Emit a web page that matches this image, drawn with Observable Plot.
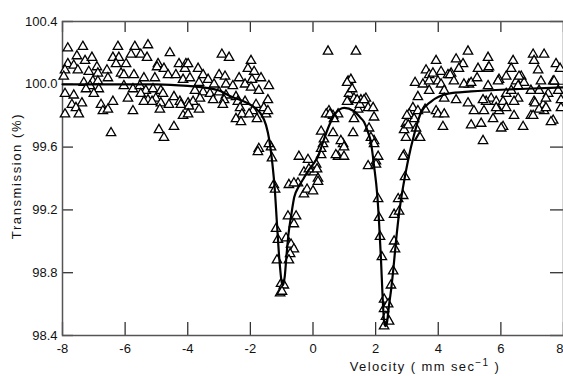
<!DOCTYPE html>
<html><head><meta charset="utf-8">
<script src="https://cdn.jsdelivr.net/npm/d3@7"></script>
<script src="https://cdn.jsdelivr.net/npm/@observablehq/plot@0.6"></script>
<style>body{margin:0;background:#fff} svg{display:block}</style>
</head><body><div id="chart"></div>
<script>
// Observed spectrum: [velocity (mm/s), transmission (%)]
const wingLeft = [
[-7.83,100.23],[-7.35,100.24],[-6.23,100.24],[-5.69,100.24],[-5.27,100.25],[-4.57,100.20],[-7.54,100.18],[-7.28,100.15],
[-7.06,100.17],[-6.39,100.17],[-6.20,100.17],[-5.81,100.19],[-5.50,100.19],[-5.30,100.17],[-6.29,100.13],[-5.97,100.13],
[-4.95,100.13],[-4.98,100.11],[-4.28,100.13],[-4.06,100.13],[-7.83,100.13],[-7.64,100.12],[-7.92,100.09],[-7.51,100.09],
[-7.16,100.08],[-6.90,100.11],[-6.87,100.07],[-6.58,100.09],[-6.13,100.07],[-6.04,100.06],[-5.72,100.06],[-5.40,100.04],
[-5.05,100.04],[-4.76,100.10],[-4.63,100.06],[-4.38,100.06],[-4.15,100.03],[-4.09,100.10],[-7.96,100.05],[-7.32,100.01],
[-7.03,100.02],[-6.87,100.02],[-6.55,100.04],[-7.12,99.99],[-6.84,99.97],[-7.25,99.97],[-6.04,99.99],[-5.75,99.97],
[-5.53,99.99],[-5.34,99.96],[-5.11,99.97],[-4.86,99.96],[-7.92,99.94],[-7.64,99.93],[-7.00,99.94],[-5.91,99.91],
[-5.50,99.94],[-5.27,99.90],[-5.02,99.91],[-4.79,99.94],[-4.44,99.92],[-4.25,99.89],[-3.99,99.88],[-7.70,99.87],
[-7.38,99.88],[-6.77,99.87],[-6.39,99.89],[-5.40,99.89],[-5.14,99.89],[-4.86,99.88],[-4.60,99.87],[-4.22,99.87],
[-7.57,99.85],[-6.71,99.83],[-6.55,99.84],[-5.75,99.83],[-4.89,99.84],[-7.92,99.81],[-7.48,99.81],[-4.15,99.80],
[-6.45,99.69],[-4.92,99.71],[-4.44,99.73],[-4.76,99.66]
];
const shoulderLeft = [
[-2.91,100.19],[-2.68,100.17],[-1.98,100.15],[-2.08,100.10],[-1.88,100.08],[-3.67,100.10],[-3.51,100.06],[-3.99,100.13],
[-3.00,100.06],[-2.81,100.05],[-2.36,100.04],[-2.17,100.00],[-1.95,100.03],[-1.66,100.04],[-1.41,99.99],[-3.93,100.04],
[-3.64,100.01],[-3.35,100.03],[-3.16,100.00],[-2.78,100.00],[-2.56,99.99],[-1.98,99.98],[-1.73,99.96],[-3.77,99.96],
[-3.51,99.95],[-3.29,99.94],[-3.00,99.95],[-2.78,99.93],[-2.46,99.92],[-3.83,99.89],[-3.61,99.91],[-3.19,99.90],
[-2.84,99.90],[-2.40,99.89],[-2.17,99.89],[-1.82,99.87],[-1.44,99.90],[-3.96,99.86],[-3.64,99.84],[-2.88,99.87],
[-2.33,99.85],[-1.92,99.83],[-1.57,99.85],[-3.99,99.81],[-2.27,99.81],[-2.04,99.81],[-1.50,99.81],[-2.46,99.78],
[-1.79,99.78],[-2.30,99.76],[-1.73,99.59],[-1.34,99.60],[-1.44,99.83]
];
const dipFirst = [
[-1.76,99.57],[-1.41,99.62],[-1.31,99.53],[-1.25,99.36],[-1.21,99.33],[-1.18,99.08],[-1.12,99.01],[-1.15,98.88],
[-1.02,98.73],[-1.05,98.67],[-0.93,98.72],[-0.99,98.68],[-0.86,99.02],[-0.70,98.98],[-0.61,98.95],[-0.73,98.92],
[-0.77,98.88],[-0.80,99.16],[-0.54,99.16],[-0.61,99.11],[-0.77,99.36],[-0.48,99.37],[-0.29,99.30],[-0.19,99.33],
[0.00,99.32],[-0.29,99.44],[0.03,99.44],[0.16,99.40],[-0.45,99.54],[-0.16,99.52],[0.10,99.49],[0.26,99.55],
[0.32,99.62],[0.80,99.54],[0.99,99.54],[0.96,99.62],[-0.13,99.46],[0.13,99.46],[-0.61,99.37],[0.16,99.38]
];
const bumpMiddle = [
[0.51,99.83],[0.64,99.69],[0.89,99.64],[0.48,100.21],[1.37,100.21],[1.12,100.02],[1.21,100.03],[1.15,99.94],
[1.12,99.89],[1.31,99.91],[1.53,99.90],[1.69,99.91],[1.76,99.85],[1.92,99.85],[1.95,99.79],[1.44,99.84],
[1.31,99.78],[0.80,99.81],[0.64,99.80],[1.79,99.72],[1.95,99.64],[1.76,99.48],[2.01,99.51],[1.09,100.01],
[1.25,99.97],[1.09,99.89],[1.41,99.90],[1.50,99.87],[1.63,99.90],[1.28,99.69],[1.85,99.66],[0.42,99.81],
[0.54,99.81],[0.67,99.78],[0.26,99.70],[0.35,99.65],[0.99,99.60],[0.26,99.59],[0.73,99.55],[1.95,99.62],[2.08,99.54]
];
const dipSecond = [
[2.01,99.49],[2.91,99.55],[2.94,99.41],[2.08,99.27],[2.11,99.15],[2.14,99.03],[2.20,98.90],[2.27,98.63],
[2.27,98.57],[2.33,98.52],[2.27,98.46],[2.43,98.49],[2.40,98.60],[2.49,98.72],[2.56,98.81],[2.59,99.00],
[2.62,98.95],[2.59,99.17],[2.75,99.19],[2.72,99.27],[2.88,99.29],[2.88,99.54]
];
const shoulderRight = [
[3.93,100.15],[3.61,100.09],[3.71,100.06],[3.26,100.01],[3.51,100.00],[3.71,99.96],[3.35,99.92],[3.99,100.02],
[3.93,99.83],[3.19,99.85],[3.07,99.81],[3.23,99.78],[2.97,99.75],[3.29,99.72],[2.97,99.66],[3.39,99.66],
[3.42,99.66],[2.91,99.71],[3.04,99.74],[3.00,99.80],[3.35,99.83],[3.58,99.84],[3.99,99.81],[4.19,99.81],
[4.15,99.73],[3.83,100.07],[3.71,100.02],[4.09,100.08],[4.31,100.06],[4.41,100.07],[4.09,100.00],[4.19,99.96],
[4.19,99.91],[4.38,100.06],[4.98,100.00]
];
const wingRight = [
[4.57,100.16],[4.79,100.13],[4.95,100.21],[4.66,100.10],[4.50,100.02],[4.82,100.00],[5.05,100.01],[5.27,100.10],
[5.24,100.04],[5.59,100.17],[5.59,100.10],[5.59,99.99],[4.57,99.90],[4.95,99.88],[5.14,99.83],[5.05,99.74],
[5.37,99.75],[5.43,99.64],[5.69,99.91],[5.53,99.89],[5.85,99.89],[5.94,99.83],[6.07,99.73],[6.17,99.94],
[5.94,100.03],[6.17,100.05],[6.39,100.15],[6.33,100.10],[6.65,100.05],[6.49,100.02],[6.74,100.01],[6.33,99.96],
[6.55,99.91],[6.42,99.80],[6.71,99.73],[6.96,99.80],[7.03,100.19],[7.06,100.15],[7.38,100.19],[7.19,100.09],
[7.28,100.02],[7.22,99.96],[7.51,99.94],[7.67,100.02],[7.76,100.13],[7.89,100.10],[7.83,99.96],[7.06,99.89],
[7.35,99.87],[7.38,99.83],[7.67,99.77],[7.92,99.85],[6.07,99.89],[6.42,99.89],[7.09,99.88],[7.44,99.91],
[7.92,99.90],[5.85,99.85],[6.17,99.85],[7.22,99.84],[7.44,99.85],[5.46,99.83],[5.75,99.78],[7.03,99.80],
[7.60,99.76],[5.91,100.02],[6.55,99.99],[6.96,99.96],[7.70,100.02],[5.62,100.11],[6.58,100.05],[5.43,99.90],
[6.01,99.72]
];
// Fitted curve
const fitVelocity = [-8,-7,-6,-5,-4,-3.5,-3,-2.6,-2.2,-2.0,-1.8,-1.66,-1.5,-1.4,-1.3,-1.22,-1.15,-1.08,-1.0,-0.96,-0.9,-0.85,-0.78,-0.7,-0.6,-0.45,-0.3,-0.15,0,0.16,0.3,0.48,0.67,0.85,1.0,1.3,1.5,1.63,1.75,1.85,1.95,2.05,2.11,2.17,2.22,2.27,2.31,2.36,2.42,2.5,2.56,2.65,2.75,2.88,3.03,3.23,3.45,3.77,4.31,5.05,6.6,8];
const fitTransmission = [100.0,100.0,100.0,100.0,99.99,99.98,99.96,99.92,99.89,99.87,99.84,99.81,99.74,99.65,99.50,99.33,99.11,98.90,98.74,98.72,98.78,98.90,99.05,99.16,99.28,99.35,99.40,99.45,99.49,99.54,99.62,99.72,99.80,99.84,99.85,99.83,99.79,99.76,99.70,99.63,99.48,99.30,99.12,98.89,98.66,98.49,98.46,98.48,98.58,98.70,98.81,99.00,99.18,99.35,99.51,99.68,99.82,99.89,99.94,99.955,99.97,99.98];

const xTicks = [-8,-6,-4,-2,0,2,4,6,8];
const yTicks = [98.4,98.8,99.2,99.6,100.0,100.4];
const xTitle = "Velocity ( mm sec";
const xTitleSup = "−1";
const yTitle = "Transmission (%)";

const observed = [...wingLeft, ...shoulderLeft, ...dipFirst, ...bumpMiddle, ...dipSecond, ...shoulderRight, ...wingRight]
  .map(([v, t]) => ({v, t}));
const fit = fitVelocity.map((v, i) => ({v, t: fitTransmission[i]}));

const W = 563, H = 376, ML = 62, MR = 0, MT = 21, MB = 41;
const ph = H - MT - MB, pw = W - ML - MR;
const lastTick = xTicks[xTicks.length - 1];

const chart = Plot.plot({
  width: W, height: H,
  marginLeft: ML, marginRight: MR, marginTop: MT, marginBottom: MB,
  style: {fontFamily: "'Liberation Sans', Arial, sans-serif", fontSize: "13px", background: "white", color: "#111"},
  x: {domain: [-8, 8]},
  y: {domain: [98.4, 100.4]},
  marks: [
    Plot.axisX(xTicks.slice(0, -1), {tickSize: 0, tickPadding: 8, tickFormat: d => String(d), label: null, fontSize: 13}),
    Plot.axisX([lastTick], {tickSize: 0, tickPadding: 8, tickFormat: d => String(d), label: null, fontSize: 13, textAnchor: "end", dx: 0}),
    Plot.axisY(yTicks, {tickSize: 0, tickPadding: 5, tickFormat: d => d.toFixed(1), label: null, fontSize: 13}),
    Plot.tickX(xTicks, {x: d => d, insetTop: ph - 13, stroke: "#333", strokeWidth: 1.3}),
    Plot.tickX(xTicks, {x: d => d, insetBottom: ph - 11, stroke: "#333", strokeWidth: 1.3}),
    Plot.tickY(yTicks, {y: d => d, insetRight: pw - 11, stroke: "#333", strokeWidth: 1.3}),
    Plot.tickY(yTicks, {y: d => d, insetLeft: pw - 13, stroke: "#333", strokeWidth: 1.3}),
    Plot.frame({stroke: "#555", strokeWidth: 1.5}),
    Plot.dot(observed, {x: "v", y: "t", symbol: "triangle", r: 3.5, fill: "white", stroke: "black", strokeWidth: 1.3}),
    Plot.line(fit, {x: "v", y: "t", curve: "monotone-x", stroke: "black", strokeWidth: 2.2})
  ]
});
document.getElementById("chart").appendChild(chart);

const svg = d3.select(chart);
const xt = svg.append("text")
  .attr("x", 425).attr("y", 371)
  .attr("text-anchor", "middle")
  .attr("font-size", 13).attr("letter-spacing", "1.4px")
  .attr("fill", "#111");
xt.append("tspan").text(xTitle);
xt.append("tspan").attr("dy", -5).attr("font-size", 10).text(xTitleSup);
xt.append("tspan").attr("dy", 5).text(" )");
svg.append("text")
  .attr("transform", "translate(21,176) rotate(-90)")
  .attr("text-anchor", "middle")
  .attr("font-size", 13).attr("letter-spacing", "1.6px")
  .attr("fill", "#111")
  .text(yTitle);
</script>
</body></html>
